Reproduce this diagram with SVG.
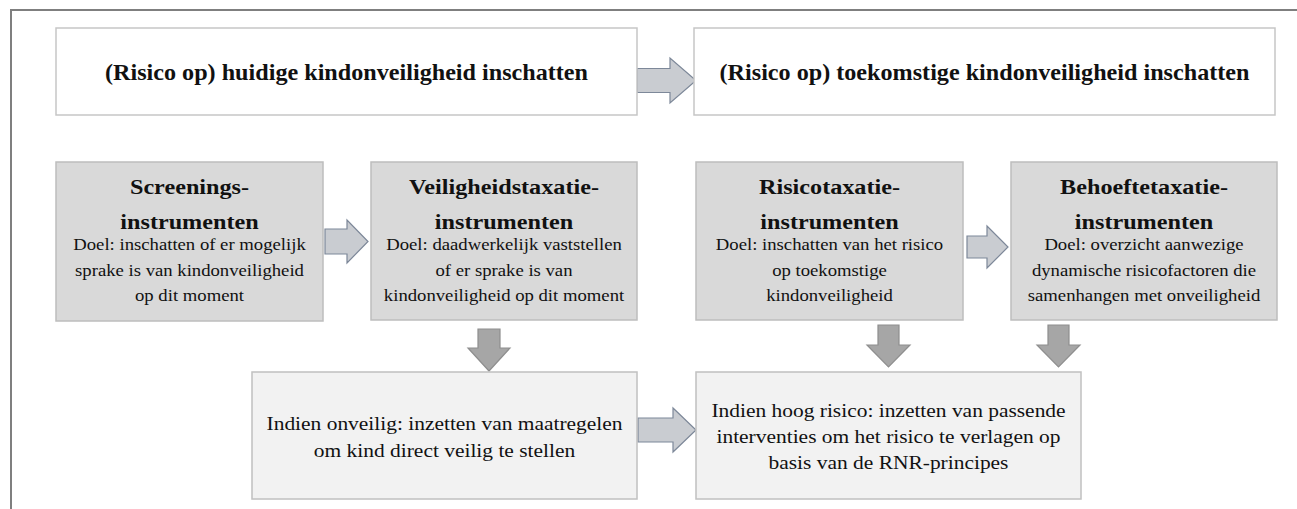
<svg xmlns="http://www.w3.org/2000/svg" width="1297" height="509" viewBox="0 0 1297 509">
<style>
.bg{fill:#ffffff}
.frame{fill:none;stroke:#7f7f7f;stroke-width:2}
.top{fill:#ffffff;stroke:#c6c6c6;stroke-width:1.5}
.mid{fill:#d9d9d9;stroke:#bdbdbd;stroke-width:1.5}
.bot{fill:#f2f2f2;stroke:#c0c0c0;stroke-width:1.5}
.ra{fill:#c9ccd1;stroke:#7d8899;stroke-width:1.2}
.da{fill:#a6a6a6;stroke:#8e8e8e;stroke-width:1.2}
text{font-family:'Liberation Serif','Times New Roman','DejaVu Serif',serif;fill:#111111;text-anchor:middle}
.h1{font-size:23px;font-weight:bold}
.h2{font-size:22px;font-weight:bold}
.b{font-size:17px}
.bl{font-size:19.5px}
</style>
<rect class="bg" x="0" y="0" width="1297" height="509"/>
<path class="frame" d="M11,509 L11,10 L1297,10"/>

<g id="connectors">
<path class="ra" d="M637,68.5 L670,68.5 L670,58 L696,80.5 L670,103 L670,92.5 L637,92.5 Z"/>
<path class="ra" d="M325,229 L347,229 L347,220 L368,241.5 L347,263 L347,254 L325,254 Z"/>
<path class="ra" d="M967,236 L987,236 L987,226 L1008,247 L987,268 L987,258 L967,258 Z"/>
<path class="ra" d="M638,418 L673,418 L673,408 L696,430 L673,452 L673,442 L638,442 Z"/>
<path class="da" d="M478,329 L500,329 L500,348 L510,348 L489,371 L468,348 L478,348 Z"/>
<path class="da" d="M878,325 L899,325 L899,345 L910,345 L888.5,367 L867,345 L878,345 Z"/>
<path class="da" d="M1048,325 L1069,325 L1069,345 L1080,345 L1058.5,367 L1037,345 L1048,345 Z"/>
</g>

<g id="huidig">
<rect class="top" x="56" y="28" width="581" height="87"/>
<text class="h1" transform="translate(346.5,80) scale(1.05,1)">(Risico op) huidige kindonveiligheid inschatten</text>
</g>

<g id="toekomstig">
<rect class="top" x="694" y="28" width="581" height="87"/>
<text class="h1" transform="translate(984.5,80) scale(1.05,1)">(Risico op) toekomstige kindonveiligheid inschatten</text>
</g>

<g id="screening">
<rect class="mid" x="56" y="162" width="267" height="159"/>
<text class="h2" transform="translate(189.5,194) scale(1.1,1)">Screenings-</text>
<text class="h2" transform="translate(189.5,229) scale(1.1,1)">instrumenten</text>
<text class="b" transform="translate(189.5,250) scale(1.1,1)">Doel: inschatten of er mogelijk</text>
<text class="b" transform="translate(189.5,275.5) scale(1.1,1)">sprake is van kindonveiligheid</text>
<text class="b" transform="translate(189.5,301) scale(1.1,1)">op dit moment</text>
</g>

<g id="veiligheid">
<rect class="mid" x="371" y="162" width="266" height="158"/>
<text class="h2" transform="translate(504,194) scale(1.1,1)">Veiligheidstaxatie-</text>
<text class="h2" transform="translate(504,229) scale(1.1,1)">instrumenten</text>
<text class="b" transform="translate(504,250) scale(1.1,1)">Doel: daadwerkelijk vaststellen</text>
<text class="b" transform="translate(504,275.5) scale(1.1,1)">of er sprake is van</text>
<text class="b" transform="translate(504,301) scale(1.1,1)">kindonveiligheid op dit moment</text>
</g>

<g id="risico">
<rect class="mid" x="696" y="162" width="267" height="158"/>
<text class="h2" transform="translate(829.5,194) scale(1.1,1)">Risicotaxatie-</text>
<text class="h2" transform="translate(829.5,229) scale(1.1,1)">instrumenten</text>
<text class="b" transform="translate(829.5,250) scale(1.1,1)">Doel: inschatten van het risico</text>
<text class="b" transform="translate(829.5,275.5) scale(1.1,1)">op toekomstige</text>
<text class="b" transform="translate(829.5,301) scale(1.1,1)">kindonveiligheid</text>
</g>

<g id="behoefte">
<rect class="mid" x="1011" y="162" width="266" height="158"/>
<text class="h2" transform="translate(1144,194) scale(1.1,1)">Behoeftetaxatie-</text>
<text class="h2" transform="translate(1144,229) scale(1.1,1)">instrumenten</text>
<text class="b" transform="translate(1144,250) scale(1.1,1)">Doel: overzicht aanwezige</text>
<text class="b" transform="translate(1144,275.5) scale(1.1,1)">dynamische risicofactoren die</text>
<text class="b" transform="translate(1144,301) scale(1.1,1)">samenhangen met onveiligheid</text>
</g>

<g id="onveilig">
<rect class="bot" x="252" y="372" width="385" height="127"/>
<text class="bl" transform="translate(444.5,430) scale(1.1,1)">Indien onveilig: inzetten van maatregelen</text>
<text class="bl" transform="translate(444.5,457) scale(1.1,1)">om kind direct veilig te stellen</text>
</g>

<g id="hoogrisico">
<rect class="bot" x="696" y="372" width="385" height="127"/>
<text class="bl" transform="translate(888.5,417) scale(1.1,1)">Indien hoog risico: inzetten van passende</text>
<text class="bl" transform="translate(888.5,443) scale(1.1,1)">interventies om het risico te verlagen op</text>
<text class="bl" transform="translate(888.5,469) scale(1.1,1)">basis van de RNR-principes</text>
</g>
</svg>
